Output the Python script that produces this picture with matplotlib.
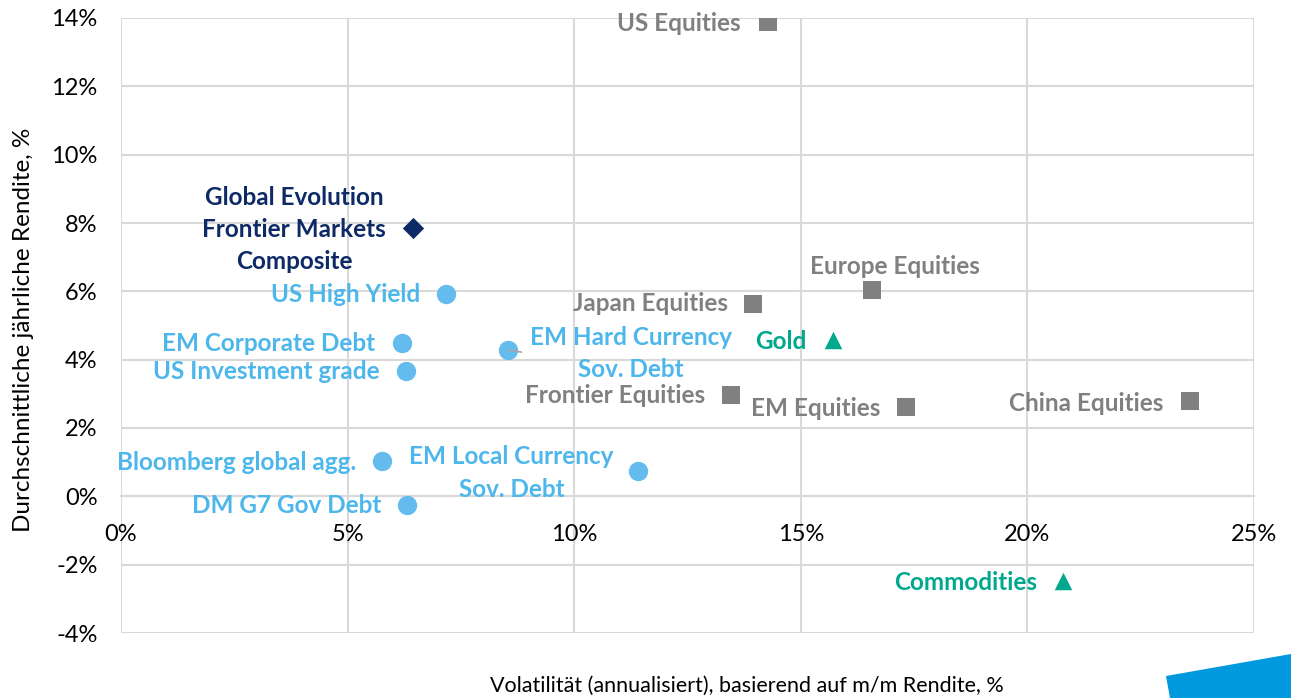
import matplotlib
matplotlib.use("Agg")
import matplotlib.pyplot as plt
from matplotlib.patches import Polygon
from matplotlib.ticker import FuncFormatter

# ---------------- data ----------------
fixed_income_names = ["US High Yield", "EM Corporate Debt", "US Investment grade",
                      "EM Hard Currency\nSov. Debt", "Bloomberg global agg.",
                      "DM G7 Gov Debt", "EM Local Currency\nSov. Debt"]
fixed_income_vol = [7.18, 6.19, 6.28, 8.53, 5.77, 6.32, 11.40]
fixed_income_ret = [5.92, 4.49, 3.67, 4.28, 1.03, -0.25, 0.74]

equity_names = ["US Equities", "Japan Equities", "Europe Equities", "Frontier Equities",
                "EM Equities", "China Equities"]
equity_vol = [14.27, 13.94, 16.58, 13.47, 17.33, 23.58]
equity_ret = [13.88, 5.63, 6.04, 2.97, 2.62, 2.79]

commodity_names = ["Gold", "Commodities"]
commodity_vol = [15.70, 20.78]
commodity_ret = [4.58, -2.48]

ge_name = ["Global Evolution\nFrontier Markets\nComposite"]
ge_vol = [6.45]
ge_ret = [7.85]

x_ticks = [0, 5, 10, 15, 20, 25]
y_ticks = [-4, -2, 0, 2, 4, 6, 8, 10, 12, 14]

# label placement (pixel offsets from marker, horizontal alignment)
label_offsets = {
    "US High Yield": (-26, 0, "right"),
    "EM Corporate Debt": (-26, -1, "right"),
    "US Investment grade": (-26, -1, "right"),
    "EM Hard Currency\nSov. Debt": (123, -3, "center"),
    "Bloomberg global agg.": (-26, -1, "right"),
    "DM G7 Gov Debt": (-26, -1, "right"),
    "EM Local Currency\nSov. Debt": (-126, -2, "center"),
    "US Equities": (-27, -1, "right"),
    "Japan Equities": (-25, 0, "right"),
    "Europe Equities": (23, 23, "center"),
    "Frontier Equities": (-26, -1, "right"),
    "EM Equities": (-26, -2, "right"),
    "China Equities": (-26, -2, "right"),
    "Gold": (-26, -2, "right"),
    "Commodities": (-26, -1, "right"),
    "Global Evolution\nFrontier Markets\nComposite": (-119, -1, "center"),
}

# ---------------- style ----------------
FONT = "Lato"
plt.rcParams["font.family"] = [FONT, "DejaVu Sans"]
LIGHT_BLUE = "#63BBEE"
LIGHT_BLUE_TXT = "#4DB6EA"
GRAY = "#808080"
TEAL = "#00A88E"
NAVY = "#0D2A66"
GRID = "#D9D9D9"
LABEL_SIZE = 17.5

fig = plt.figure(figsize=(12.91, 6.98), dpi=100)
ax = fig.add_axes([121 / 1291, 1 - 633 / 698, (1254 - 121) / 1291, (633 - 18) / 698])

ax.set_xlim(0, 25)
ax.set_ylim(-4, 14)
ax.set_xticks(x_ticks)
ax.set_yticks(y_ticks)
ax.xaxis.set_major_formatter(FuncFormatter(lambda v, p: f"{v:.0f}%"))
ax.yaxis.set_major_formatter(FuncFormatter(lambda v, p: f"{v:.0f}%"))
ax.grid(True, color=GRID, linewidth=1.5, zorder=0)
ax.set_axisbelow(True)
for s in ["top", "right", "left"]:
    ax.spines[s].set_visible(False)
ax.spines["bottom"].set_position(("data", 0))
ax.spines["bottom"].set_color(GRID)
ax.spines["bottom"].set_linewidth(1.5)
ax.tick_params(axis="both", length=0, labelsize=17, colors="black")
ax.tick_params(axis="x", pad=20)
ax.tick_params(axis="y", pad=17)

# markers
ax.scatter(fixed_income_vol, fixed_income_ret, s=18 ** 2 * 0.6, marker="o",
           color=LIGHT_BLUE, zorder=3, linewidths=0)
ax.scatter(equity_vol, equity_ret, s=17 ** 2 * 0.55, marker="s",
           color=GRAY, zorder=3, linewidths=0)
ax.scatter(commodity_vol, commodity_ret, s=17 ** 2 * 0.55, marker="^",
           color=TEAL, zorder=3, linewidths=0)
ax.scatter(ge_vol, ge_ret, s=14 ** 2 * 0.6, marker="D",
           color=NAVY, zorder=3, linewidths=0)


def label(names, xs, ys, color):
    for n, x, y in zip(names, xs, ys):
        dx, dy, ha = label_offsets[n]
        ax.annotate(n, (x, y), xytext=(dx, dy), textcoords="offset pixels",
                    ha=ha, va="center", color=color, fontsize=LABEL_SIZE,
                    fontweight="bold", linespacing=1.48 if "\n" in n else 1.2,
                    zorder=4)


label(fixed_income_names, fixed_income_vol, fixed_income_ret, LIGHT_BLUE_TXT)
label(equity_names, equity_vol, equity_ret, GRAY)
label(commodity_names, commodity_vol, commodity_ret, TEAL)
label(ge_name, ge_vol, ge_ret, NAVY)

# small leader line for EM Hard Currency
ax.annotate("", xy=(fixed_income_vol[3], fixed_income_ret[3]), xytext=(14, -2),
            textcoords="offset pixels",
            arrowprops=dict(arrowstyle="-", color="#A6A6A6", lw=1.2,
                            shrinkA=0, shrinkB=0), zorder=5)

# axis titles
fig.text(24 / 1291, 1 - 330 / 698, "Durchschnittliche jährliche Rendite, %",
         rotation=90, ha="center", va="center", fontsize=17.5, color="black")
fig.text(747 / 1291, 1 - 686 / 698,
         "Volatilität (annualisiert), basierend auf m/m Rendite, %",
         ha="center", va="center", fontsize=15.5, color="black")

# decorative blue shape
poly = Polygon([(1166 / 1291, 1 - 676 / 698), (1.0, 1 - 654 / 698), (1.0, 0.0),
                (1170 / 1291, 0.0)], closed=True, transform=fig.transFigure,
               facecolor="#0099DD", edgecolor="none")
fig.patches.append(poly)

fig.savefig("out.png", dpi=100)
